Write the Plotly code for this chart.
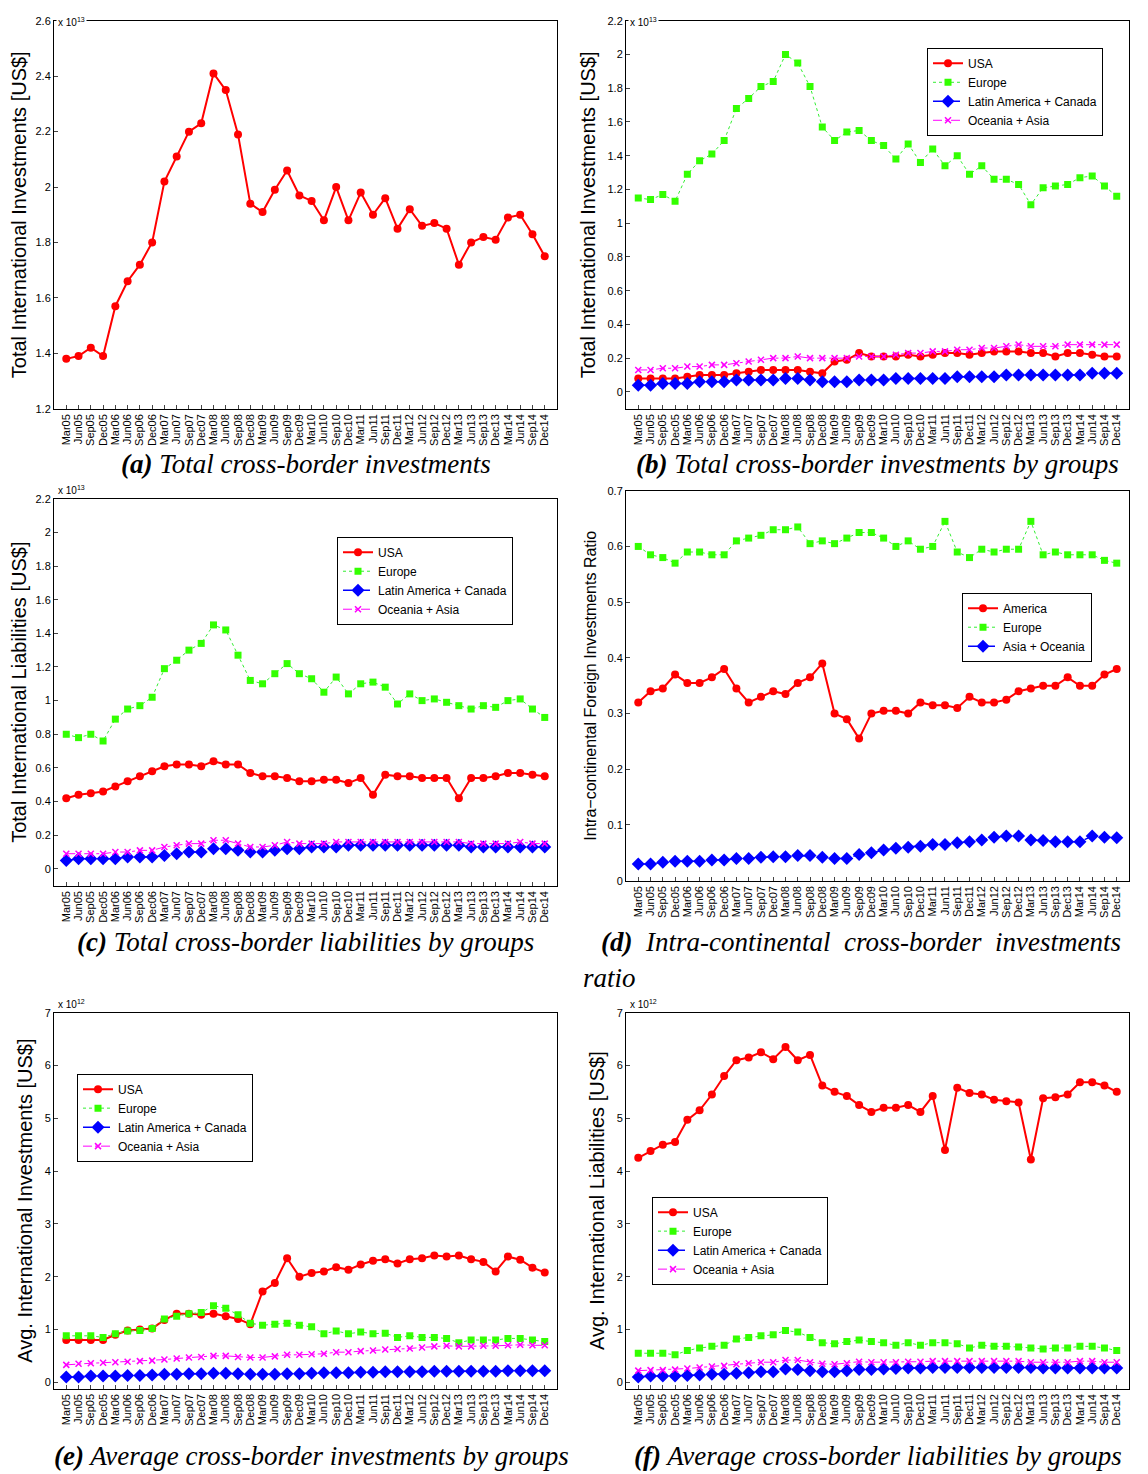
import plotly.graph_objects as go

quarters = [f"{m}{y:02d}" for y in range(5, 15) for m in ["Mar", "Jun", "Sep", "Dec"]]

# (a) total investments, x1e13
tot_inv = [1.38, 1.39, 1.42, 1.39, 1.57, 1.66, 1.72, 1.80, 2.02, 2.11, 2.20, 2.23, 2.41, 2.35, 2.19, 1.94,
           1.91, 1.99, 2.06, 1.97, 1.95, 1.88, 2.00, 1.88, 1.98, 1.90, 1.96, 1.85, 1.92, 1.86, 1.87, 1.85,
           1.72, 1.80, 1.82, 1.81, 1.89, 1.90, 1.83, 1.75]

# (b) investments by groups, x1e13
b_usa = [0.08, 0.08, 0.08, 0.08, 0.09, 0.10, 0.10, 0.10, 0.11, 0.12, 0.13, 0.13, 0.13, 0.13, 0.12, 0.11,
         0.18, 0.19, 0.23, 0.21, 0.21, 0.21, 0.22, 0.21, 0.22, 0.23, 0.23, 0.22, 0.23, 0.24, 0.24, 0.24,
         0.23, 0.23, 0.21, 0.23, 0.23, 0.22, 0.21, 0.21]
b_eur = [1.15, 1.14, 1.17, 1.13, 1.29, 1.37, 1.41, 1.49, 1.68, 1.74, 1.81, 1.84, 2.00, 1.95, 1.81, 1.57,
         1.49, 1.54, 1.55, 1.49, 1.46, 1.38, 1.47, 1.36, 1.44, 1.34, 1.40, 1.29, 1.34, 1.26, 1.26, 1.23,
         1.11, 1.21, 1.22, 1.23, 1.27, 1.28, 1.22, 1.16]
b_lat = [0.04, 0.04, 0.05, 0.05, 0.05, 0.06, 0.06, 0.06, 0.07, 0.07, 0.07, 0.07, 0.08, 0.08, 0.07, 0.06,
         0.06, 0.06, 0.07, 0.07, 0.07, 0.08, 0.08, 0.08, 0.08, 0.08, 0.09, 0.09, 0.09, 0.09, 0.10, 0.10,
         0.10, 0.10, 0.10, 0.10, 0.10, 0.11, 0.11, 0.11]
b_oce = [0.13, 0.13, 0.14, 0.14, 0.15, 0.15, 0.16, 0.16, 0.17, 0.18, 0.19, 0.20, 0.20, 0.21, 0.20, 0.20,
         0.20, 0.20, 0.21, 0.21, 0.21, 0.22, 0.23, 0.23, 0.24, 0.24, 0.25, 0.25, 0.26, 0.26, 0.27, 0.28,
         0.27, 0.27, 0.27, 0.28, 0.28, 0.28, 0.28, 0.28]

# (c) liabilities by groups, x1e13
c_usa = [0.42, 0.44, 0.45, 0.46, 0.49, 0.52, 0.55, 0.58, 0.61, 0.62, 0.62, 0.61, 0.64, 0.62, 0.62, 0.57,
         0.55, 0.55, 0.54, 0.52, 0.52, 0.53, 0.53, 0.51, 0.54, 0.44, 0.56, 0.55, 0.55, 0.54, 0.54, 0.54,
         0.42, 0.54, 0.54, 0.55, 0.57, 0.57, 0.56, 0.55]
c_eur = [0.80, 0.78, 0.80, 0.76, 0.89, 0.95, 0.97, 1.02, 1.19, 1.24, 1.30, 1.34, 1.45, 1.42, 1.27, 1.12,
         1.10, 1.16, 1.22, 1.16, 1.13, 1.05, 1.14, 1.04, 1.10, 1.11, 1.08, 0.98, 1.04, 1.00, 1.01, 0.99,
         0.97, 0.95, 0.97, 0.96, 1.00, 1.01, 0.95, 0.90]
c_lat = [0.05, 0.06, 0.06, 0.06, 0.06, 0.07, 0.07, 0.07, 0.08, 0.09, 0.10, 0.10, 0.12, 0.12, 0.11, 0.10,
         0.10, 0.11, 0.12, 0.12, 0.13, 0.13, 0.13, 0.14, 0.14, 0.14, 0.14, 0.14, 0.14, 0.14, 0.14, 0.14,
         0.14, 0.13, 0.13, 0.13, 0.13, 0.13, 0.13, 0.13]
c_oce = [0.09, 0.09, 0.09, 0.09, 0.10, 0.10, 0.11, 0.11, 0.13, 0.14, 0.15, 0.15, 0.17, 0.17, 0.15, 0.13,
         0.13, 0.14, 0.16, 0.15, 0.15, 0.15, 0.16, 0.16, 0.16, 0.16, 0.16, 0.16, 0.16, 0.16, 0.16, 0.16,
         0.16, 0.15, 0.15, 0.15, 0.15, 0.16, 0.15, 0.15]

# (d) intra-continental ratio
d_ame = [0.32, 0.34, 0.345, 0.37, 0.355, 0.355, 0.365, 0.38, 0.345, 0.32, 0.33, 0.34, 0.335, 0.355, 0.365, 0.39,
         0.30, 0.29, 0.255, 0.30, 0.305, 0.305, 0.30, 0.32, 0.315, 0.315, 0.31, 0.33, 0.32, 0.32, 0.325, 0.34,
         0.345, 0.35, 0.35, 0.365, 0.35, 0.35, 0.37, 0.38]
d_eur = [0.60, 0.585, 0.58, 0.57, 0.59, 0.59, 0.585, 0.585, 0.61, 0.615, 0.62, 0.63, 0.63, 0.635, 0.605, 0.61,
         0.605, 0.615, 0.625, 0.625, 0.615, 0.60, 0.61, 0.595, 0.60, 0.645, 0.59, 0.58, 0.595, 0.59, 0.595, 0.595,
         0.645, 0.585, 0.59, 0.585, 0.585, 0.585, 0.575, 0.57]
d_asi = [0.03, 0.03, 0.033, 0.035, 0.035, 0.035, 0.037, 0.037, 0.04, 0.04, 0.042, 0.043, 0.043, 0.045, 0.045, 0.042,
         0.04, 0.04, 0.047, 0.05, 0.055, 0.058, 0.06, 0.062, 0.065, 0.065, 0.068, 0.07, 0.073, 0.078, 0.08, 0.08,
         0.073, 0.072, 0.07, 0.07, 0.07, 0.08, 0.078, 0.077]

# (e) average investments, x1e12
e_usa = [0.8, 0.8, 0.8, 0.8, 0.9, 0.98, 1.0, 1.02, 1.18, 1.3, 1.3, 1.28, 1.3, 1.25, 1.2, 1.1,
         1.72, 1.88, 2.35, 2.0, 2.07, 2.1, 2.18, 2.13, 2.23, 2.3, 2.33, 2.25, 2.33, 2.35, 2.4, 2.38,
         2.4, 2.33, 2.28, 2.1, 2.38, 2.32, 2.17, 2.08]
e_eur = [0.88, 0.88, 0.88, 0.85, 0.92, 0.97, 0.98, 1.02, 1.2, 1.25, 1.3, 1.32, 1.45, 1.4, 1.28, 1.12,
         1.08, 1.1, 1.12, 1.08, 1.05, 0.92, 0.97, 0.92, 0.95, 0.92, 0.93, 0.85, 0.88, 0.85, 0.85, 0.83,
         0.75, 0.8, 0.8, 0.8, 0.83, 0.83, 0.8, 0.77]
e_lat = [0.1, 0.1, 0.12, 0.12, 0.12, 0.13, 0.13, 0.14, 0.15, 0.15, 0.16, 0.16, 0.17, 0.17, 0.16, 0.15,
         0.15, 0.15, 0.16, 0.16, 0.17, 0.18, 0.18, 0.18, 0.19, 0.19, 0.2, 0.2, 0.2, 0.2, 0.21, 0.21,
         0.21, 0.21, 0.21, 0.21, 0.22, 0.22, 0.22, 0.22]
e_oce = [0.33, 0.35, 0.36, 0.37, 0.38, 0.39, 0.40, 0.41, 0.43, 0.45, 0.47, 0.48, 0.50, 0.50, 0.48, 0.47,
         0.47, 0.49, 0.52, 0.52, 0.53, 0.54, 0.57, 0.57, 0.59, 0.60, 0.62, 0.63, 0.64, 0.66, 0.68, 0.69,
         0.68, 0.68, 0.69, 0.69, 0.70, 0.71, 0.70, 0.70]

# (f) average liabilities, x1e12
f_usa = [4.25, 4.38, 4.5, 4.55, 4.97, 5.15, 5.45, 5.8, 6.1, 6.15, 6.25, 6.12, 6.35, 6.1, 6.2, 5.62,
         5.5, 5.42, 5.25, 5.12, 5.2, 5.2, 5.25, 5.12, 5.42, 4.4, 5.58, 5.48, 5.45, 5.35, 5.32, 5.3,
         4.22, 5.38, 5.4, 5.45, 5.68, 5.68, 5.62, 5.5]
f_eur = [0.55, 0.55, 0.55, 0.52, 0.6, 0.65, 0.68, 0.7, 0.82, 0.85, 0.88, 0.9, 0.98, 0.95, 0.85, 0.75,
         0.73, 0.77, 0.8, 0.77, 0.75, 0.7, 0.75, 0.7, 0.75, 0.75, 0.73, 0.65, 0.7, 0.68, 0.68, 0.67,
         0.65, 0.63, 0.65, 0.65, 0.68, 0.68, 0.65, 0.6]
f_lat = [0.1, 0.12, 0.12, 0.12, 0.13, 0.14, 0.15, 0.15, 0.17, 0.18, 0.2, 0.2, 0.25, 0.24, 0.22, 0.2,
         0.2, 0.22, 0.24, 0.24, 0.25, 0.26, 0.27, 0.27, 0.28, 0.28, 0.28, 0.28, 0.28, 0.28, 0.28, 0.28,
         0.28, 0.27, 0.27, 0.27, 0.27, 0.27, 0.27, 0.27]
f_oce = [0.22, 0.23, 0.23, 0.24, 0.26, 0.28, 0.3, 0.31, 0.34, 0.36, 0.38, 0.38, 0.42, 0.42, 0.38, 0.35,
         0.34, 0.36, 0.39, 0.38, 0.38, 0.38, 0.39, 0.39, 0.4, 0.4, 0.4, 0.4, 0.4, 0.4, 0.4, 0.4,
         0.38, 0.38, 0.38, 0.38, 0.4, 0.4, 0.38, 0.38]

W, H = 1148, 1474
STY = {
    "red": dict(mode="lines+markers", line=dict(color="#ff0000", width=2),
                marker=dict(symbol="circle", size=8, color="#ff0000")),
    "green": dict(mode="lines+markers", line=dict(color="#33ee33", width=1, dash="dot"),
                  marker=dict(symbol="square", size=7, color="#33ff00")),
    "blue": dict(mode="lines+markers", line=dict(color="#0000ff", width=1.5, dash="dash"),
                 marker=dict(symbol="diamond", size=10, color="#0000ff")),
    "mag": dict(mode="lines+markers", line=dict(color="#ff00ff", width=1, dash="dashdot"),
                marker=dict(symbol="x-thin-open", size=6, color="#ff00ff", line=dict(width=1.5, color="#ff00ff"))),
}

fig = go.Figure()
xs = list(range(len(quarters)))


# the page renders slightly offset, so correct target pixel positions
def px_x(p):
    return (p - 9) / W


def px_y(p):
    return min(1.0, 1 - ((p - 13.2) / 0.992) / H)


panels = [
    (1, (55, 558), (20, 408), [1.2, 2.6], 0.2, "Total International Investments [US$]", "13",
     [("USA", tot_inv, "red")], None),
    (2, (627, 1130), (20, 408), [-0.1, 2.2], 0.2, "Total International Investments [US$]", "13",
     [("USA", b_usa, "red"), ("Europe", b_eur, "green"), ("Latin America + Canada", b_lat, "blue"),
      ("Oceania + Asia", b_oce, "mag")], (928, 47)),
    (3, (55, 558), (498, 885), [-0.1, 2.2], 0.2, "Total International Liabilities [US$]", "13",
     [("USA", c_usa, "red"), ("Europe", c_eur, "green"), ("Latin America + Canada", c_lat, "blue"),
      ("Oceania + Asia", c_oce, "mag")], (338, 536)),
    (4, (627, 1130), (490, 880), [0, 0.7], 0.1, "Intra−continental Foreign Investments Ratio", None,
     [("America", d_ame, "red"), ("Europe", d_eur, "green"), ("Asia + Oceania", d_asi, "blue")], (963, 592)),
    (5, (55, 558), (1012, 1388), [-0.12, 7], 1, "Avg. International Investments [US$]", "12",
     [("USA", e_usa, "red"), ("Europe", e_eur, "green"), ("Latin America + Canada", e_lat, "blue"),
      ("Oceania + Asia", e_oce, "mag")], (78, 1073)),
    (6, (627, 1130), (1012, 1388), [-0.12, 7], 1, "Avg. International Liabilities [US$]", "12",
     [("USA", f_usa, "red"), ("Europe", f_eur, "green"), ("Latin America + Canada", f_lat, "blue"),
      ("Oceania + Asia", f_oce, "mag")], (653, 1196)),
]

layout = dict(width=W, height=H, margin=dict(l=0, r=0, t=0, b=0), paper_bgcolor="white",
              plot_bgcolor="white", font=dict(family="Liberation Sans", color="black"), annotations=[])

for idx, (x0, x1), (y0, y1), yr, dt, ytitle, expo, series, lpos in panels:
    sfx = "" if idx == 1 else str(idx)
    lg = None
    if lpos:
        lg = "legend" if idx == 2 else "legend" + str(idx)
        layout[lg] = dict(x=px_x(lpos[0]), y=px_y(lpos[1]), xanchor="left", yanchor="top",
                          bgcolor="white", bordercolor="black", borderwidth=1,
                          font=dict(size=12, family="Liberation Sans"), tracegroupgap=0,
                          itemwidth=30)
    for name, vals, sty in series:
        fig.add_trace(go.Scatter(x=xs, y=vals, name=name, xaxis="x" + sfx, yaxis="y" + sfx,
                                 showlegend=lg is not None, legend=lg if lg else "legend", **STY[sty]))
    layout["xaxis" + sfx] = dict(domain=[px_x(x0), px_x(x1)], anchor="y" + sfx, range=[-1, 40],
                                 tickmode="array", tickvals=xs, ticktext=quarters, tickangle=-90,
                                 tickfont=dict(size=11), showline=True, mirror=True, linecolor="black",
                                 ticks="inside", ticklen=4, showgrid=False, zeroline=False)
    layout["yaxis" + sfx] = dict(domain=[px_y(y1), px_y(y0)], anchor="x" + sfx, range=yr, dtick=dt,
                                 tick0=0, tickfont=dict(size=11), showline=True, mirror=True,
                                 linecolor="black", ticks="inside", ticklen=4, showgrid=False,
                                 zeroline=False,
                                 title=dict(text=ytitle, font=dict(size=20 if idx != 4 else 16),
                                            standoff=6))
    if expo:
        if y0 < 100:
            ann_y, anchor = 1.0, "top"
        else:
            ann_y, anchor = px_y(y0 - 1), "bottom"
        layout["annotations"].append(dict(x=px_x(x0 + 2), y=ann_y, xref="paper", yref="paper",
                                          xanchor="left", yanchor=anchor, showarrow=False,
                                          text=f"x 10<sup>{expo}</sup>", font=dict(size=10),
                                          bgcolor="white" if anchor == "top" else None))

captions = [
    ((55 + 558) / 2, 463, "<b>(a)</b> Total cross-border investments"),
    ((627 + 1130) / 2, 463, "<b>(b)</b> Total cross-border investments by groups"),
    ((55 + 558) / 2, 941, "<b>(c)</b> Total cross-border liabilities by groups"),
    (862, 941, "<b>(d)</b>  Intra-continental  cross-border  investments"),
    (610, 977, "ratio"),
    ((55 + 558) / 2 + 6, 1455, "<b>(e)</b> Average cross-border investments by groups"),
    ((627 + 1130) / 2, 1455, "<b>(f)</b> Average cross-border liabilities by groups"),
]
for cx, cy, txt in captions:
    layout["annotations"].append(dict(x=px_x(cx), y=px_y(cy), xref="paper", yref="paper",
                                      xanchor="center", yanchor="middle", showarrow=False,
                                      text=f"<i>{txt}</i>",
                                      font=dict(size=27, family="Liberation Serif")))

fig.update_layout(**layout)
fig.write_html("out.html")
